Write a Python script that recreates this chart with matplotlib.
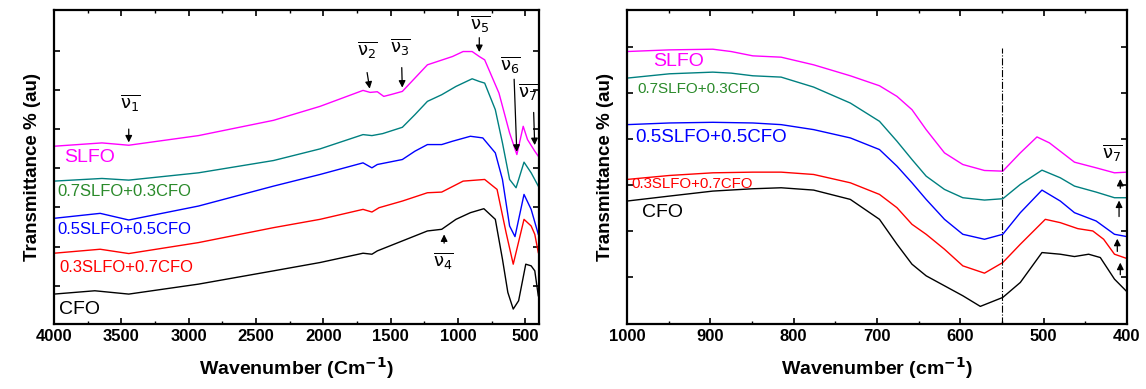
import numpy as np
import matplotlib
matplotlib.use('Agg')
import matplotlib.pyplot as plt
from matplotlib.ticker import MultipleLocator

plt.rcParams['font.family'] = ['Liberation Sans', 'DejaVu Sans']

# ---- left panel: full range (arbitrary transmittance, offset traces)
wn_slfo = [4000, 3644, 3445, 2927, 2370, 2025, 1706, 1653, 1600, 1552, 1494, 1414, 1321, 1228,
           1042, 963, 896, 843, 803, 697, 618, 564, 517, 485, 431, 405]
t_slfo = [535, 545, 538, 567, 613, 655, 703, 697, 699, 685, 691, 700, 740, 780,
          805, 820, 820, 805, 795, 695, 575, 510, 595, 555, 520, 505]
wn_73 = [4000, 3644, 3445, 2927, 2370, 2025, 1706, 1640, 1560, 1414, 1321, 1228, 1122, 1016,
         896, 843, 803, 724, 671, 618, 570, 511, 458, 405]
t_73 = [430, 438, 433, 455, 492, 527, 570, 567, 573, 592, 630, 670, 690, 715,
        738, 730, 725, 645, 545, 435, 410, 487, 455, 415]
wn_55 = [4000, 3657, 3445, 2927, 2370, 2025, 1706, 1640, 1600, 1414, 1321, 1228, 1122, 1042,
         909, 817, 724, 671, 618, 578, 511, 458, 405]
t_55 = [318, 333, 313, 355, 415, 450, 485, 470, 480, 495, 520, 540, 540, 550,
        565, 560, 515, 435, 295, 263, 390, 345, 270]
wn_37 = [4000, 3657, 3445, 2927, 2370, 2025, 1706, 1640, 1587, 1414, 1228, 1122, 963, 803,
         711, 644, 591, 511, 458, 431, 405]
t_37 = [213, 225, 212, 245, 290, 315, 345, 337, 350, 370, 395, 397, 430, 435,
        405, 275, 180, 315, 295, 270, 215]
wn_cfo = [4000, 3697, 3445, 2927, 2370, 2025, 1706, 1640, 1600, 1414, 1228, 1122, 1016, 909,
          809, 724, 671, 631, 591, 551, 498, 458, 431, 405]
t_cfo = [90, 100, 90, 120, 160, 185, 213, 210, 220, 250, 280, 285, 315, 335,
         347, 315, 195, 95, 45, 70, 180, 175, 160, 85]

# ---- right panel: 1000-400 cm-1 zoom
rwn_slfo = [1000, 949, 897, 875, 849, 815, 776, 732, 697, 676, 658, 641, 619, 597, 571, 549,
            528, 508, 493, 463, 437, 415, 400]
rt_slfo = [820, 825, 827, 820, 807, 803, 780, 747, 717, 685, 645, 585, 515, 480, 462, 460,
           515, 563, 545, 487, 470, 455, 457]
rwn_73 = [1000, 949, 897, 875, 849, 815, 776, 732, 697, 676, 658, 641, 619, 597, 571, 549,
          528, 502, 480, 463, 437, 415, 400]
rt_73 = [740, 753, 758, 755, 747, 743, 713, 665, 610, 550, 495, 445, 405, 380, 373, 377,
         420, 463, 440, 415, 397, 380, 380]
rwn_55 = [1000, 949, 897, 849, 815, 776, 732, 697, 676, 658, 641, 619, 597, 571, 549,
          528, 502, 480, 463, 437, 415, 400]
rt_55 = [600, 605, 607, 605, 600, 585, 560, 525, 475, 425, 375, 315, 270, 255, 270,
         335, 403, 370, 335, 310, 270, 263]
rwn_37 = [1000, 949, 897, 849, 815, 776, 732, 697, 676, 658, 641, 619, 597, 571, 549,
          528, 498, 480, 459, 441, 428, 415, 400]
rt_37 = [435, 447, 455, 457, 457, 450, 425, 390, 350, 300, 270, 225, 175, 153, 185,
         240, 315, 305, 287, 280, 255, 210, 197]
rwn_cfo = [1000, 949, 897, 849, 815, 776, 732, 697, 676, 658, 641, 619, 597, 576, 549,
           528, 502, 480, 463, 446, 432, 415, 400]
rt_cfo = [370, 385, 400, 407, 410, 403, 375, 315, 240, 180, 145, 115, 85, 53, 80,
          125, 215, 210, 203, 210, 200, 135, 97]

names = ['SLFO', '0.7SLFO+0.3CFO', '0.5SLFO+0.5CFO', '0.3SLFO+0.7CFO', 'CFO']
line_cols = ['#ff00ff', '#008080', '#0000ff', '#ff0000', 'black']
text_cols = ['#ff00ff', '#2a8a2a', '#0000ff', '#ff0000', 'black']

fig = plt.figure(figsize=(11.46, 3.89), dpi=100)
ax1 = fig.add_axes([0.0471, 0.1671, 0.4232, 0.8072])
ax2 = fig.add_axes([0.5471, 0.1671, 0.4363, 0.8072])

left = [(wn_slfo, t_slfo), (wn_73, t_73), (wn_55, t_55), (wn_37, t_37), (wn_cfo, t_cfo)]
right = [(rwn_slfo, rt_slfo), (rwn_73, rt_73), (rwn_55, rt_55), (rwn_37, rt_37), (rwn_cfo, rt_cfo)]
for (x, y), c in zip(left, line_cols):
    ax1.plot(x, y, color=c, lw=1.0)
for (x, y), c in zip(right, line_cols):
    ax2.plot(x, y, color=c, lw=1.0)

# series labels
lpos = [(3923, 500), (3976, 400), (3976, 285), (3963, 170), (3963, 45)]
lsize = [14, 12, 12, 12, 14]
for n, (x, y), c, s in zip(names, lpos, text_cols, lsize):
    ax1.text(x, y, n, color=c, fontsize=s, va='center', ha='left')
rpos = [(969, 790), (988, 707), (990, 560), (995, 420), (982, 335)]
rsize = [14, 11, 13.5, 10.8, 14]
for n, (x, y), c, s in zip(names, rpos, text_cols, rsize):
    ax2.text(x, y, n, color=c, fontsize=s, va='center', ha='left')

# band markers
arr = dict(arrowstyle='-|>', color='black', lw=0.9, mutation_scale=10)
bands = [(r'$\overline{\mathrm{\nu}_{1}}$', (3430, 665), (3445, 595), (3445, 538)),
         (r'$\overline{\mathrm{\nu}_{2}}$', (1670, 825), (1679, 765), (1653, 700)),
         (r'$\overline{\mathrm{\nu}_{3}}$', (1427, 835), (1419, 780), (1414, 703)),
         (r'$\overline{\mathrm{\nu}_{5}}$', (835, 905), (843, 870), (843, 810)),
         (r'$\overline{\mathrm{\nu}_{6}}$', (610, 780), (585, 745), (564, 510)),
         (r'$\overline{\mathrm{\nu}_{7}}$', (480, 700), (440, 645), (431, 530)),
         (r'$\overline{\mathrm{\nu}_{4}}$', (1109, 190), (1104, 235), (1104, 278))]
for lab, tp, a0, a1 in bands:
    ax1.text(tp[0], tp[1], lab, fontsize=13, ha='center', va='center')
    ax1.annotate('', xy=a1, xytext=a0, arrowprops=arr)

ax2.text(418, 515, r'$\overline{\mathrm{\nu}_{7}}$', fontsize=13, ha='center', va='center')
r_arrows = [(408, 400, 445), (409.5, 315, 380), (411.6, 210, 265), (408, 140, 193)]
for x, y0, y1 in r_arrows:
    ax2.annotate('', xy=(x, y1), xytext=(x, y0), arrowprops=arr)
ax2.plot([550, 550], [0, 830], color='black', lw=0.8, ls='-.')

# axes styling
ax1.set_xlim(4000, 400)
ax1.xaxis.set_major_locator(MultipleLocator(500))
ax1.xaxis.set_minor_locator(MultipleLocator(250))
ax1.set_yticks(np.arange(115, 900, 118))
ax2.set_xlim(1000, 400)
ax2.xaxis.set_major_locator(MultipleLocator(100))
ax2.xaxis.set_minor_locator(MultipleLocator(50))
ax2.set_yticks(np.arange(140, 900, 139))

for ax in (ax1, ax2):
    ax.set_ylim(0, 945)
    ax.set_yticklabels([])
    ax.tick_params(direction='in', top=True, right=True, length=4, width=1.2,
                   labelsize=12)
    ax.tick_params(which='minor', direction='in', top=True, length=2.5, width=1.0)
    for lbl in ax.get_xticklabels():
        lbl.set_fontweight('bold')
    for sp in ax.spines.values():
        sp.set_linewidth(1.6)
    ax.set_ylabel('Transmittance % (au)', fontsize=13.5, fontweight='bold', labelpad=6)

ax1.set_xlabel(r'Wavenumber (Cm$^{\mathbf{-1}}$)', fontsize=14, fontweight='bold', labelpad=8)
ax2.set_xlabel(r'Wavenumber (cm$^{\mathbf{-1}}$)', fontsize=14, fontweight='bold', labelpad=8)

fig.savefig('out.png', dpi=100)
